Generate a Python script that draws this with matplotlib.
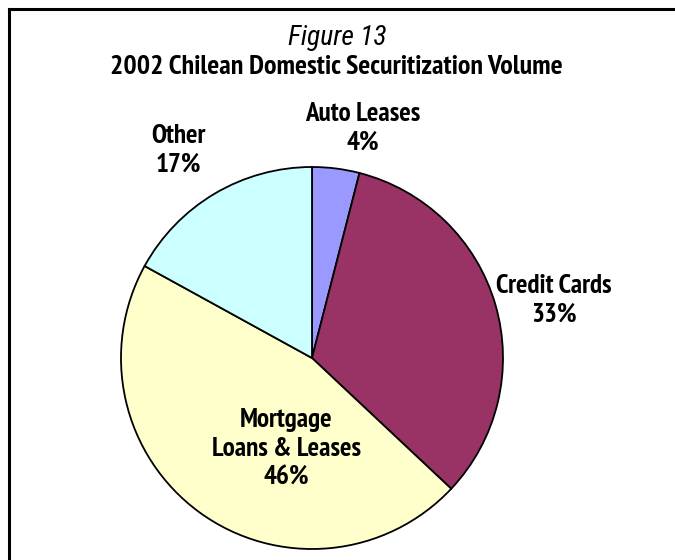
import matplotlib.pyplot as plt
from matplotlib.lines import Line2D

# Securitization volume by asset class, 2002
categories = ['Auto Leases', 'Credit Cards', 'Mortgage\nLoans & Leases', 'Other']
shares = [4, 33, 46, 17]
colors = ['#9999FF', '#993366', '#FFFFCC', '#CCFFFF']

bold_narrow = ['PT Sans Narrow', 'Liberation Sans', 'DejaVu Sans']
italic_narrow = ['Roboto Condensed', 'Liberation Sans', 'DejaVu Sans']

W, H = 675, 560
fig = plt.figure(figsize=(W / 100, H / 100), dpi=100)
renderer = fig.canvas.get_renderer()


def fit_width(t, target):
    # scale font size so the text block is `target` pixels wide
    w = t.get_window_extent(renderer).width
    t.set_fontsize(t.get_fontsize() * target / w)
    return t.get_fontsize()


# pie centre and radius in pixels
cx, cy, r = 312, 358, 191
ax = fig.add_axes([(cx - r) / W, (H - cy - r) / H, 2 * r / W, 2 * r / H])
ax.pie(shares, colors=colors, startangle=90, counterclock=False, radius=1,
       wedgeprops=dict(edgecolor='black', linewidth=1.3))
ax.set_xlim(-1, 1)
ax.set_ylim(-1, 1)
ax.set_aspect('equal')
ax.axis('off')

# label centres in pixels, same order as categories
label_pos = [(363, 128), (554, 300), (286, 449), (178, 150)]
labels = []
for name, v, (px, py) in zip(categories, shares, label_pos):
    t = fig.text(px / W, 1 - py / H, f'{name}\n{v}%', ha='center', va='center',
                 family=bold_narrow, fontweight='bold', fontsize=14, linespacing=1.25)
    labels.append(t)
size = fit_width(labels[2], 150)
for t in labels:
    t.set_fontsize(size)

fig_t = fig.text(337 / W, 1 - 38 / H, 'Figure 13', ha='center', va='center',
                 family=italic_narrow, style='italic', fontsize=18)
fit_width(fig_t, 99)
title = fig.text(336 / W, 1 - 67 / H, '2002 Chilean Domestic Securitization Volume',
                 ha='center', va='center', family=bold_narrow, fontweight='bold', fontsize=19)
fit_width(title, 450)

# frame lines at top and left
fig.add_artist(Line2D([9 / W, 9 / W], [0, 1 - 9 / H], color='black', linewidth=2.2,
                      transform=fig.transFigure))
fig.add_artist(Line2D([9 / W, 1], [1 - 9 / H, 1 - 9 / H], color='black', linewidth=2.2,
                      transform=fig.transFigure))

fig.savefig('out.png', dpi=100, facecolor='white')
